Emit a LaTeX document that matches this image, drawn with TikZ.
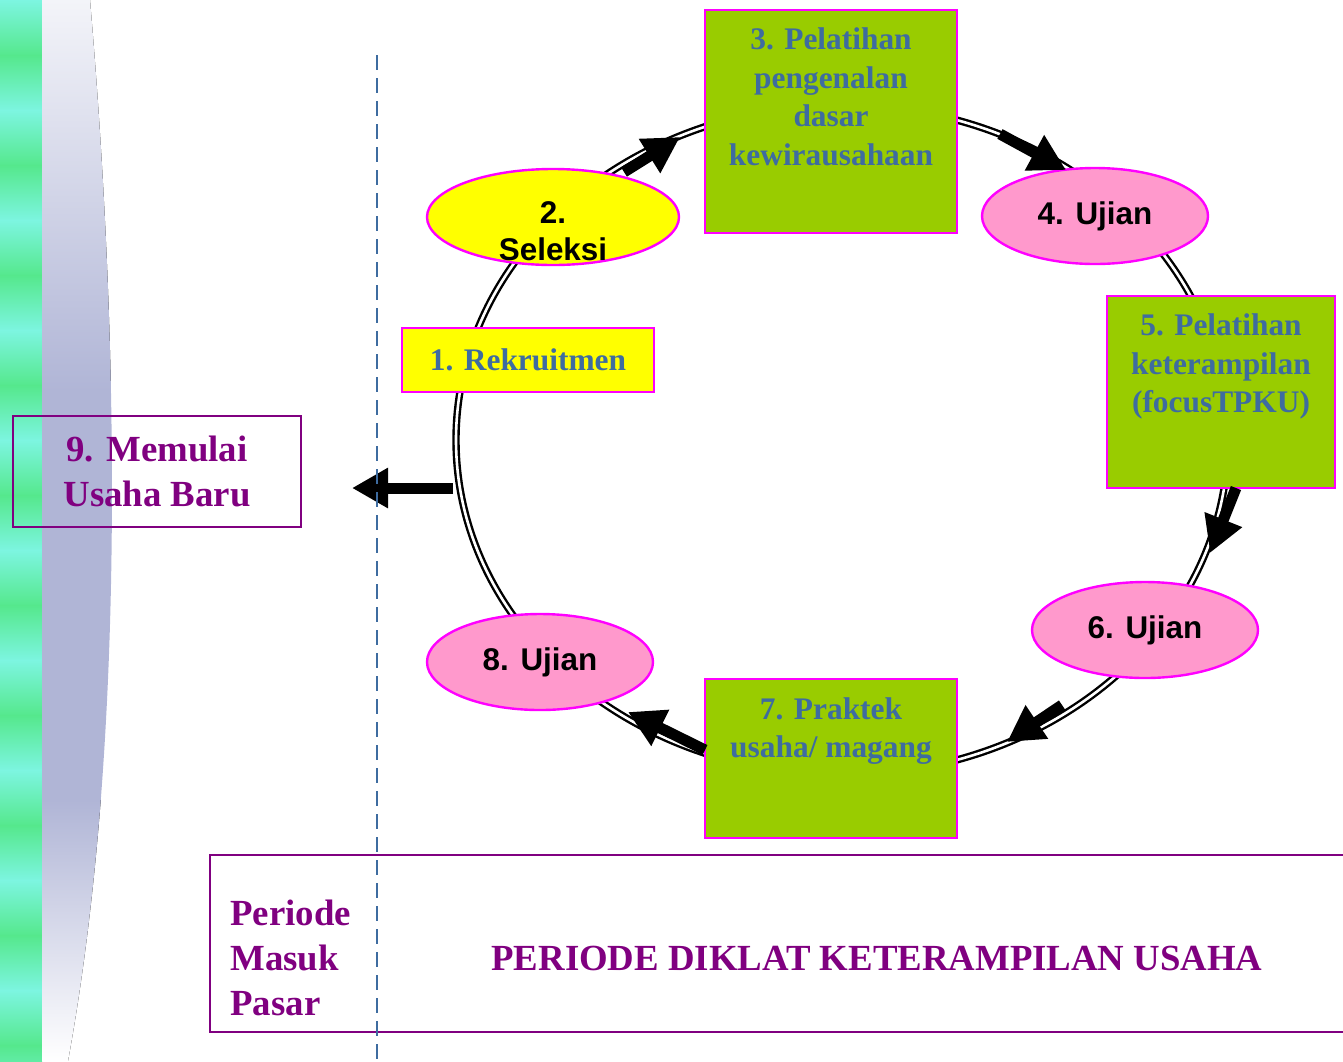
\documentclass[tikz,border=0pt]{standalone}
\usepackage{fontspec}
\setmainfont{Liberation Serif}
\setsansfont{Liberation Sans}
\usepackage{tikz}
\usetikzlibrary{shapes.geometric,arrows.meta}
\definecolor{ungu}{RGB}{128,0,128}
\definecolor{biru}{RGB}{62,108,160}
\definecolor{pinggir}{RGB}{255,0,255}
\definecolor{kuning}{RGB}{255,255,0}
\definecolor{hijau}{RGB}{153,204,0}
\definecolor{merahmuda}{RGB}{255,153,204}
\definecolor{stripa}{RGB}{85,232,140}
\definecolor{stripb}{RGB}{125,245,225}
\definecolor{lembayung}{RGB}{176,181,214}
\tikzset{ring/.style={draw=black,line width=1.2pt,double=white,double distance=1.3pt}}
\tikzset{fat/.style={line width=5.5pt,-{Triangle[length=18pt,width=19pt]}}}
\tikzset{ybox/.style={rectangle,fill=kuning,draw=pinggir,line width=1.2pt,text=biru,
    font=\fontsize{15.7}{19.25}\selectfont\bfseries}}
\tikzset{gbox/.style={rectangle,fill=hijau,draw=pinggir,line width=1.2pt}}
\tikzset{gtxt/.style={anchor=north,yshift=-9.5pt,inner sep=0pt,align=center,text=biru,
    font=\fontsize{15.7}{19.25}\selectfont\bfseries}}
\tikzset{yell/.style={ellipse,fill=kuning,draw=pinggir,line width=1.2pt,inner sep=0pt,
    minimum width=126pt,minimum height=48pt}}
\tikzset{pell/.style={ellipse,fill=merahmuda,draw=pinggir,line width=1.2pt,inner sep=0pt,
    minimum width=113pt,minimum height=48pt,font=\fontsize{15.7}{18.5}\selectfont\sffamily\bfseries}}
\tikzset{stxt/.style={inner sep=0pt,align=center,font=\fontsize{15.7}{18.5}\selectfont\sffamily\bfseries}}
\tikzset{ptxt/.style={inner sep=0pt,text=ungu,font=\fontsize{18.4}{22.5}\selectfont\bfseries}}
\tikzset{pbox/.style={rectangle,draw=ungu,line width=1.3pt,align=center,text=ungu,
    font=\fontsize{18.4}{22.5}\selectfont\bfseries}}

\begin{document}
\begin{tikzpicture}[x=0.5pt,y=-0.5pt]
  \useasboundingbox (0,0) rectangle (1343,1061);
  % left strip
  \begin{scope}
    \clip (0,0) rectangle (42,1061);
    \foreach \y in {0,110,...,990}{
      \fill[top color=stripb,bottom color=stripa] (0,\y) rectangle (42,\y+56);
      \fill[top color=stripa,bottom color=stripb] (0,\y+55) rectangle (42,\y+111);
    }
  \end{scope}
  \begin{scope}
    \clip (42,0) -- (90,0) .. controls (120,350) and (125,750) .. (68,1061) -- (42,1061) -- cycle;
    \fill[top color=white!85!lembayung,bottom color=lembayung] (42,0) rectangle (125,391);
    \fill[lembayung] (42,390) rectangle (125,801);
    \fill[top color=lembayung,bottom color=white] (42,800) rectangle (125,1061);
  \end{scope}

  \draw[ring] (842,440) ellipse [x radius=386, y radius=335];

  \node[ybox,minimum width=126pt,minimum height=32pt] (rek) at (528,360) {1. Rekruitmen};
  \node[yell] (sel) at (553,217) {};
  \node[stxt] (selt) at (553,231) {2.\\Seleksi};
  \node[gbox,minimum width=126pt,minimum height=111.5pt,
    label={[gtxt]north:{3. Pelatihan\\pengenalan\\dasar\\kewirausahaan}}] (pel3) at (831,121.5) {};
  \node[pell] (uji4) at (1095,216) {4. Ujian};
  \node[gbox,minimum width=114pt,minimum height=96pt,
    label={[gtxt]north:{5. Pelatihan\\keterampilan\\(focusTPKU)}}] (pel5) at (1221,392) {};
  \node[pell] (uji6) at (1145,630) {6. Ujian};
  \node[gbox,minimum width=126pt,minimum height=79.5pt,
    label={[gtxt]north:{7. Praktek\\usaha/ magang}}] (prak7) at (831,758.5) {};
  \node[pell] (uji8) at (540,662) {8. Ujian};
  \node[pbox,minimum width=144pt,minimum height=55.5pt] (mulai) at (157,471.5) {9. Memulai\\Usaha Baru};

  % arrows on the ring
  \coordinate (a23s) at (624,172);
  \coordinate (a23e) at (680,137);
  \coordinate (a34s) at (1000,134);
  \coordinate (a34e) at (1066,170);
  \coordinate (a56s) at (1236,488);
  \coordinate (a56e) at (1210,553);
  \coordinate (a67s) at (1062,705);
  \coordinate (a67e) at (1007,742);
  \coordinate (a78s) at (705,750);
  \coordinate (a78e) at (628,712);
  \coordinate (a9s) at (453,488);
  \coordinate (a9e) at (352,488);
  \draw[fat] (a23s) -- (a23e);
  \draw[fat] (a34s) -- (a34e);
  \draw[fat] (a56s) -- (a56e);
  \draw[fat] (a67s) -- (a67e);
  \draw[fat] (a78s) -- (a78e);
  \draw[fat] (a9s) -- (a9e);

  \draw[ungu,line width=1.1pt] (1343,855) -| (210,1032) -- (1343,1032);
  \draw[biru,line width=1pt,dash pattern=on 7.5pt off 4pt] (377,55) -- (377,1061);

  \node[ptxt,align=left,anchor=west] (masuk) at (230,958) {Periode\\Masuk\\Pasar};
  \node[ptxt] (diklat) at (877,958) {PERIODE DIKLAT KETERAMPILAN USAHA};
\end{tikzpicture}
\end{document}
